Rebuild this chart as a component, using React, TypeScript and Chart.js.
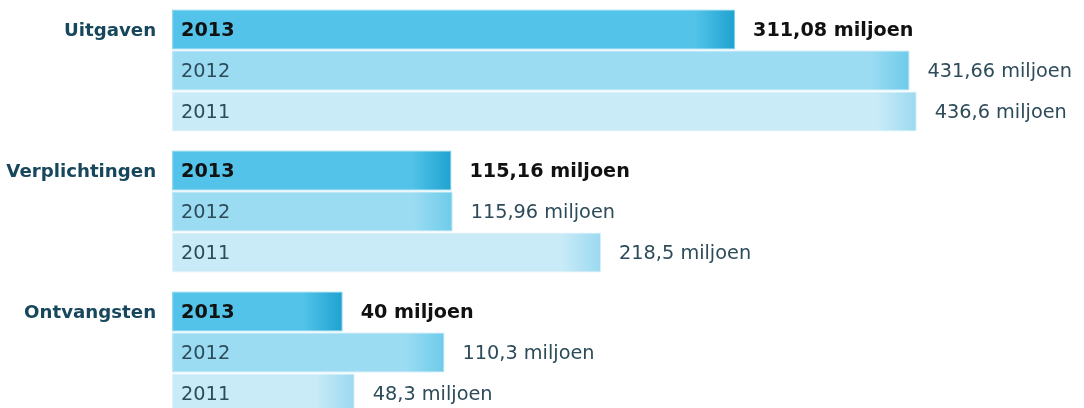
import React, { useEffect, useRef } from "react";
import { Chart, registerables } from "chart.js";

Chart.register(...registerables);

const categories = ["Uitgaven", "Verplichtingen", "Ontvangsten"];
const years = ["2013", "2012", "2011"];
const values2013 = [311.08, 115.16, 40];
const values2012 = [431.66, 115.96, 110.3];
const values2011 = [436.6, 218.5, 48.3];
const unit = "miljoen";

const series = [values2013, values2012, values2011];
const baseColors = ["#53c3e9", "#9cdcf3", "#c9ebf7"];
const endColors = ["#1ea2d0", "#6dcbea", "#9bd9f1"];
const borderColors = ["#7dd2ef", "#b3e4f6", "#d9f1fa"];

const FONT = "'DejaVu Sans', Verdana, sans-serif";
const BASE_VALUE = -77.9;

function fmt(v: number) {
  return String(v).replace(".", ",");
}

const labelPlugin = {
  id: "labelPlugin",
  afterDatasetsDraw(chart: any) {
    const ctx = chart.ctx;
    ctx.save();
    chart.data.datasets.forEach((ds: any, di: number) => {
      const meta = chart.getDatasetMeta(di);
      meta.data.forEach((bar: any, i: number) => {
        const bold = di === 0;
        const y = bar.y + 1.5;
        ctx.textBaseline = "middle";
        ctx.textAlign = "left";
        ctx.font = bold ? `bold 19.2px ${FONT}` : `19.3px ${FONT}`;
        ctx.fillStyle = bold ? "#111111" : "#2d4b59";
        ctx.fillText(years[di], bar.base + 9, y);
        ctx.fillText(`${fmt(ds.data[i])} ${unit}`, bar.x + 18, y);
        if (di === 0) {
          ctx.textAlign = "right";
          ctx.font = `bold 18.2px ${FONT}`;
          ctx.fillStyle = "#17475c";
          ctx.fillText(categories[i], bar.base - 16, y);
        }
      });
    });
    ctx.restore();
  },
};

export default function App() {
  const ref = useRef<HTMLCanvasElement | null>(null);
  useEffect(() => {
    if (!ref.current) return;
    const chart = new Chart(ref.current, {
      type: "bar",
      data: {
        labels: categories,
        datasets: series.map((vals, di) => ({
          label: years[di],
          data: vals,
          base: BASE_VALUE,
          borderWidth: 1,
          borderSkipped: false,
          borderColor: borderColors[di],
          backgroundColor: (c: any) => {
            const chartObj = c.chart;
            const xs = chartObj.scales && chartObj.scales.x;
            if (!xs || !c.parsed || c.type !== "data") return baseColors[di];
            const end = xs.getPixelForValue(c.parsed.x);
            const start = xs.getPixelForValue(BASE_VALUE);
            if (!isFinite(end) || !isFinite(start) || end <= start) return baseColors[di];
            const g = chartObj.ctx.createLinearGradient(start, 0, end, 0);
            const len = end - start;
            const p = Math.max(0, Math.min(1, 1 - 40 / len));
            g.addColorStop(0, baseColors[di]);
            g.addColorStop(p, baseColors[di]);
            g.addColorStop(1, endColors[di]);
            return g;
          },
          barPercentage: 40 / 41,
          categoryPercentage: 123 / 141,
        })),
      },
      options: {
        indexAxis: "y",
        responsive: false,
        animation: false,
        layout: { padding: 0 },
        plugins: {
          legend: { display: false },
          tooltip: { enabled: false },
        },
        scales: {
          x: { display: false, min: -196.8, max: 552.2 },
          y: { display: false },
        },
      },
      plugins: [labelPlugin],
    } as any);
    return () => chart.destroy();
  }, []);
  return (
    <div style={{ position: "fixed", left: 0, top: 0, width: 1084, height: 423, background: "#fff" }}>
      <canvas ref={ref} width={1084} height={423} />
    </div>
  );
}
